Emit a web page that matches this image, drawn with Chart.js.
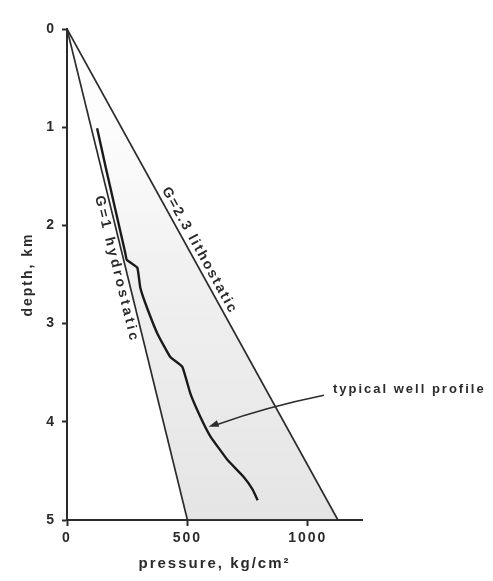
<!DOCTYPE html>
<html>
<head>
<meta charset="utf-8">
<script src="https://cdn.jsdelivr.net/npm/chart.js@4"></script>
<style>
  html, body { margin: 0; padding: 0; background: #fff; }
  canvas { display: block; }
</style>
</head>
<body>
<canvas id="chart" width="493" height="581"></canvas>
<script>
// pressure in kg/cm2, depth in km
var hydroPressure = [0, 500];
var hydroDepth = [0, 5];
var lithoPressure = [0, 1125];
var lithoDepth = [0, 5];
var wellPressure = [125, 160, 200, 242, 248, 292, 304, 325, 375, 429, 479, 512, 554, 596, 667, 733, 771, 792];
var wellDepth = [1.01, 1.40, 1.83, 2.28, 2.35, 2.43, 2.63, 2.79, 3.10, 3.34, 3.44, 3.71, 3.95, 4.15, 4.39, 4.56, 4.69, 4.80];
var xTicks = [0, 500, 1000];
var yTicks = [0, 1, 2, 3, 4, 5];
var arrowFrom = [1067, 3.73];
var arrowTo = [588, 4.05];

var ink = "#2b2b2b";
var face = "'Liberation Sans', Arial, sans-serif";

function pts(p, d) {
  return p.map(function (v, i) { return { x: v, y: d[i] }; });
}

var notes = {
  id: "notes",
  beforeDraw: function (chart) { chart.ctx.letterSpacing = "2px"; },

  // stippled band between hydrostatic and lithostatic, heavier with depth
  beforeDatasetsDraw: function (chart) {
    var ctx = chart.ctx, xs = chart.scales.x, ys = chart.scales.y, a = chart.chartArea;
    ctx.save();
    ctx.beginPath();
    lithoPressure.forEach(function (p, i) {
      var x = xs.getPixelForValue(p), y = ys.getPixelForValue(lithoDepth[i]);
      if (i === 0) ctx.moveTo(x, y); else ctx.lineTo(x, y);
    });
    for (var i = hydroPressure.length - 1; i >= 0; i--) {
      ctx.lineTo(xs.getPixelForValue(hydroPressure[i]), ys.getPixelForValue(hydroDepth[i]));
    }
    ctx.closePath();
    var g = ctx.createLinearGradient(0, a.top, 0, a.bottom);
    g.addColorStop(0, "rgba(110,110,110,0)");
    g.addColorStop(0.22, "rgba(110,110,110,0.02)");
    g.addColorStop(0.5, "rgba(110,110,110,0.10)");
    g.addColorStop(1, "rgba(110,110,110,0.18)");
    ctx.fillStyle = g;
    ctx.fill();
    ctx.restore();
  },

  afterDatasetsDraw: function (chart) {
    var ctx = chart.ctx, xs = chart.scales.x, ys = chart.scales.y;

    function along(text, p, d, at, off, gap) {
      var x0 = xs.getPixelForValue(p[0]), y0 = ys.getPixelForValue(d[0]);
      var x1 = xs.getPixelForValue(p[1]), y1 = ys.getPixelForValue(d[1]);
      ctx.save();
      ctx.translate(x0 + (x1 - x0) * at, y0 + (y1 - y0) * at);
      ctx.rotate(Math.atan2(y1 - y0, x1 - x0));
      ctx.font = "bold 14px " + face;
      ctx.letterSpacing = gap + "px";
      ctx.fillStyle = ink;
      ctx.textAlign = "center";
      ctx.textBaseline = "middle";
      ctx.fillText(text, 0, off);
      ctx.restore();
    }
    along("G=2.3 lithostatic", lithoPressure, lithoDepth, 0.46, -9, 2);
    along("G=1 hydrostatic", hydroPressure, hydroDepth, 0.485, 9, 3);

    // pointer to the well profile
    var ax = xs.getPixelForValue(arrowFrom[0]), ay = ys.getPixelForValue(arrowFrom[1]);
    var bx = xs.getPixelForValue(arrowTo[0]), by = ys.getPixelForValue(arrowTo[1]);
    var cx = (ax + bx) / 2, cy = (ay + by) / 2 - 4;
    ctx.save();
    ctx.strokeStyle = ink;
    ctx.fillStyle = ink;
    ctx.lineWidth = 1.5;
    ctx.beginPath();
    ctx.moveTo(ax, ay);
    ctx.quadraticCurveTo(cx, cy, bx + 8, by - 2);
    ctx.stroke();
    var ang = Math.atan2(by - cy, bx - cx);
    ctx.translate(bx, by);
    ctx.rotate(ang);
    ctx.beginPath();
    ctx.moveTo(0, 0);
    ctx.lineTo(-10, -3.5);
    ctx.lineTo(-10, 3.5);
    ctx.closePath();
    ctx.fill();
    ctx.restore();

    ctx.save();
    ctx.font = "bold 13px " + face;
    ctx.letterSpacing = "2px";
    ctx.fillStyle = ink;
    ctx.textBaseline = "middle";
    ctx.fillText("typical well profile", ax + 9, ay - 6);
    ctx.restore();
  }
};

var tickFont = { family: face, size: 14, weight: "bold" };

new Chart(document.getElementById("chart").getContext("2d"), {
  type: "scatter",
  data: {
    datasets: [
      {
        data: pts(hydroPressure, hydroDepth),
        showLine: true,
        borderColor: ink,
        borderWidth: 1.7,
        pointRadius: 0
      },
      {
        data: pts(lithoPressure, lithoDepth),
        showLine: true,
        borderColor: ink,
        borderWidth: 1.7,
        pointRadius: 0
      },
      {
        data: pts(wellPressure, wellDepth),
        showLine: true,
        borderColor: "#1a1a1a",
        borderWidth: 2.4,
        tension: 0.1,
        pointRadius: 0
      }
    ]
  },
  options: {
    responsive: false,
    animation: false,
    layout: { padding: { left: 0, top: 29, right: 131, bottom: 0 } },
    plugins: {
      legend: { display: false },
      tooltip: { enabled: false }
    },
    scales: {
      x: {
        type: "linear",
        min: 0,
        max: 1225,
        afterBuildTicks: function (s) { s.ticks = xTicks.map(function (v) { return { value: v }; }); },
        afterFit: function (s) { s.height = 61; },
        ticks: {
          font: tickFont, color: ink, padding: 4, maxRotation: 0,
          callback: function (v) { return String(v); }
        },
        grid: { drawOnChartArea: false, tickLength: 6, tickColor: ink, tickWidth: 2 },
        border: { display: true, color: ink, width: 2 },
        title: {
          display: true,
          text: "pressure, kg/cm²",
          color: ink,
          font: { family: face, size: 15, weight: "bold" },
          padding: { top: 0, bottom: 8 }
        }
      },
      y: {
        type: "linear",
        reverse: true,
        min: 0,
        max: 5,
        afterBuildTicks: function (s) { s.ticks = yTicks.map(function (v) { return { value: v }; }); },
        afterFit: function (s) { s.width = 67; },
        ticks: { font: tickFont, color: ink, padding: 6 },
        grid: { drawOnChartArea: false, tickLength: 5, tickColor: ink, tickWidth: 2 },
        border: { display: true, color: ink, width: 2 },
        title: {
          display: true,
          text: "depth, km",
          color: ink,
          font: { family: face, size: 14, weight: "bold" },
          padding: { top: 20, bottom: 0 }
        }
      }
    }
  },
  plugins: [notes]
});
</script>
</body>
</html>
